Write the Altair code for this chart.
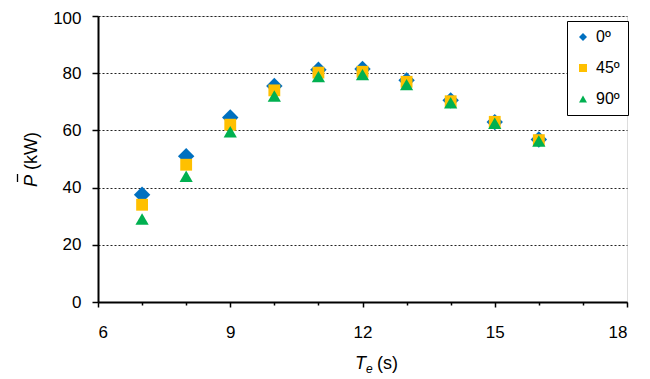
import altair as alt
import pandas as pd

periods = [7, 8, 9, 10, 11, 12, 13, 14, 15, 16]
series_names = ["0º", "45º", "90º"]
p_0 = [37.5, 51.0, 64.5, 75.5, 81.2, 81.5, 77.5, 70.5, 62.9, 56.8]
p_45 = [34.0, 48.0, 62.0, 74.0, 80.2, 80.5, 77.0, 70.2, 63.0, 56.6]
p_90 = [29.0, 44.0, 59.5, 72.0, 78.8, 79.5, 76.0, 69.7, 62.5, 56.3]
x_ticks = [6, 7, 8, 9, 10, 11, 12, 13, 14, 15, 16, 17, 18]
y_ticks = [0, 20, 40, 60, 80, 100]

colors = ["#0070C0", "#FFC000", "#00B050"]
shapes = ["diamond", "square", "triangle-up"]
sizes = [270, 140, 175]

rows = []
for name, vals in zip(series_names, [p_0, p_45, p_90]):
    for t, v in zip(periods, vals):
        rows.append({"Te": t, "P": v, "angle": name})
df = pd.DataFrame(rows)

FONT = "Liberation Sans"
W, H = 529, 286
LBL = 17

x_enc = alt.X("Te:Q", scale=alt.Scale(domain=[6, 18], nice=False, zero=False),
              axis=alt.Axis(values=x_ticks, title=None, grid=False,
                            labelExpr="datum.value % 3 === 0 ? datum.label : ''",
                            tickSize={"condition": {"test": "datum.value % 3 === 0", "value": 5}, "value": 3},
                            labelPadding=17, labelFontSize=LBL, labelFont=FONT,
                            labelColor="#000", domainColor="#000", tickColor="#000",
                            domainWidth=2, tickWidth=1.5))
y_enc = alt.Y("P:Q", scale=alt.Scale(domain=[0, 100], nice=False),
              axis=alt.Axis(values=y_ticks, title=None, grid=True,
                            gridDash=[2, 2], gridColor="#222", gridWidth=1,
                            labelOffset={"condition": {"test": "datum.value === 100", "value": 2}, "value": 0},
                            tickSize=6, labelPadding=11, labelFontSize=LBL, labelFont=FONT,
                            labelColor="#000", domainColor="#000", tickColor="#000",
                            domainWidth=2, tickWidth=1.5))

color_enc = alt.Color("angle:N", scale=alt.Scale(domain=series_names, range=colors),
                      legend=alt.Legend(title=None, orient="none", legendX=469, legendY=5,
                                        strokeColor="#000", fillColor="white", padding=8,
                                        cornerRadius=0, symbolSize=64, rowPadding=15,
                                        labelFontSize=16, labelFont=FONT, labelColor="#000",
                                        labelOffset=5, symbolStrokeWidth=0))
shape_enc = alt.Shape("angle:N", scale=alt.Scale(domain=series_names, range=shapes))

layers = []
for name, sz in zip(series_names, sizes):
    layers.append(
        alt.Chart(df).transform_filter(alt.datum.angle == name)
        .mark_point(filled=True, size=sz, opacity=1, strokeWidth=0)
        .encode(x=x_enc, y=y_enc, color=color_enc, shape=shape_enc)
    )

ytitle_p = alt.Chart(pd.DataFrame({"t": ["P"]})).mark_text(
    angle=270, align="left", baseline="alphabetic", fontSize=18, font=FONT,
    fontStyle="italic", color="#000").encode(
    text="t:N", x=alt.value(-61), y=alt.value(171))
ytitle_bar = alt.Chart(pd.DataFrame({"t": ["bar"]})).mark_rule(
    color="#000", strokeWidth=1.3).encode(
    x=alt.value(-80.5), y=alt.value(158), y2=alt.value(166))
ytitle_u = alt.Chart(pd.DataFrame({"t": ["(kW)"]})).mark_text(
    angle=270, align="left", baseline="alphabetic", fontSize=18, font=FONT,
    color="#000").encode(
    text="t:N", x=alt.value(-61), y=alt.value(154))

xtitle_t = alt.Chart(pd.DataFrame({"t": ["T"]})).mark_text(
    align="left", baseline="alphabetic", fontSize=18, font=FONT,
    fontStyle="italic", color="#000").encode(
    text="t:N", x=alt.value(257), y=alt.value(353))
xtitle_e = alt.Chart(pd.DataFrame({"t": ["e"]})).mark_text(
    align="left", baseline="alphabetic", fontSize=12, font=FONT,
    fontStyle="italic", color="#000").encode(
    text="t:N", x=alt.value(268), y=alt.value(357))
xtitle_s = alt.Chart(pd.DataFrame({"t": ["(s)"]})).mark_text(
    align="left", baseline="alphabetic", fontSize=18, font=FONT,
    color="#000").encode(
    text="t:N", x=alt.value(279), y=alt.value(353))

chart = alt.layer(*layers, ytitle_p, ytitle_bar, ytitle_u, xtitle_t, xtitle_e, xtitle_s).properties(
    width=W, height=H,
    autosize=alt.AutoSizeParams(type="none"),
    padding={"left": 90, "top": 8, "right": 15, "bottom": 76},
).configure_view(stroke="#888", strokeWidth=1).configure(background="white")

chart.save("out.html", embed_options={"renderer": "svg", "actions": False})
